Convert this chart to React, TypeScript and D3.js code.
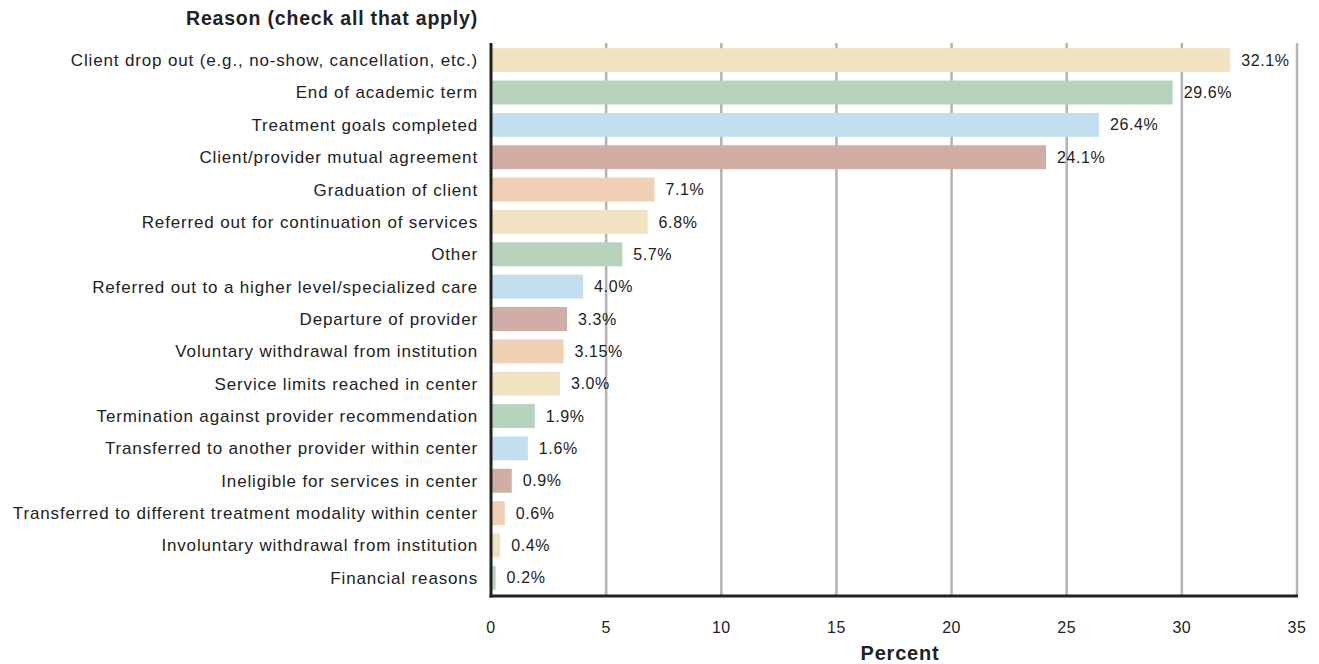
import React from "react";
import * as d3 from "d3";

const categories = [
  "Client drop out (e.g., no-show, cancellation, etc.)",
  "End of academic term",
  "Treatment goals completed",
  "Client/provider mutual agreement",
  "Graduation of client",
  "Referred out for continuation of services",
  "Other",
  "Referred out to a higher level/specialized care",
  "Departure of provider",
  "Voluntary withdrawal from institution",
  "Service limits reached in center",
  "Termination against provider recommendation",
  "Transferred to another provider within center",
  "Ineligible for services in center",
  "Transferred to different treatment modality within center",
  "Involuntary withdrawal from institution",
  "Financial reasons",
];
const values = [32.1, 29.6, 26.4, 24.1, 7.1, 6.8, 5.7, 4.0, 3.3, 3.15, 3.0, 1.9, 1.6, 0.9, 0.6, 0.4, 0.2];
const valueLabels = ["32.1%", "29.6%", "26.4%", "24.1%", "7.1%", "6.8%", "5.7%", "4.0%", "3.3%", "3.15%", "3.0%", "1.9%", "1.6%", "0.9%", "0.6%", "0.4%", "0.2%"];
const xTicks = [0, 5, 10, 15, 20, 25, 30, 35];
const palette = ["#f2e3c0", "#b7d3bc", "#c2dff0", "#d0aea5", "#f0d0b3"];

export default function App() {
  const W = 1319, H = 664;
  const left = 491, right = 1297, top = 43, bottom = 596;
  const x = d3.scaleLinear().domain([0, 35]).range([left, right]);
  const y = d3.scaleBand<string>().domain(categories).range([top + 1, bottom - 2]).paddingInner(0.26).paddingOuter(0.13);
  const font = "'Liberation Sans', Arial, Helvetica, sans-serif";
  return (
    <svg width={W} height={H} style={{ position: "absolute", left: 0, top: 0 }} fontFamily={font}>
      <rect width={W} height={H} fill="#fff" />
      <text x={478} y={25} textAnchor="end" fontWeight="bold" fontSize={19.5} letterSpacing={0.8} fill="#222">Reason (check all that apply)</text>
      {xTicks.slice(1).map((t) => (
        <line key={t} x1={x(t)} x2={x(t)} y1={top} y2={bottom} stroke="#b3b3b8" strokeWidth={2.5} />
      ))}
      {categories.map((c, i) => (
        <g key={c}>
          <rect x={x(0)} y={y(c)!} width={x(values[i]) - x(0)} height={y.bandwidth()} fill={palette[i % palette.length]} />
          <text x={x(values[i]) + 11} y={y(c)! + y.bandwidth() / 2} dy="0.35em" fontSize={16} letterSpacing={0.6} fill="#222">{valueLabels[i]}</text>
          <text x={478} y={y(c)! + y.bandwidth() / 2} dy="0.35em" textAnchor="end" fontSize={17} letterSpacing={0.85} fill="#222">{c}</text>
        </g>
      ))}
      <line x1={left} x2={left} y1={top} y2={bottom + 1.5} stroke="#222" strokeWidth={3} />
      <line x1={left - 1.5} x2={right + 1} y1={bottom} y2={bottom} stroke="#222" strokeWidth={3} />
      {xTicks.map((t) => (
        <text key={t} x={x(t)} y={633} textAnchor="middle" fontSize={16} letterSpacing={0.5} fill="#222">{t}</text>
      ))}
      <text x={(left + right) / 2 + 6} y={660} textAnchor="middle" fontWeight="bold" fontSize={20} letterSpacing={0.8} fill="#222">Percent</text>
    </svg>
  );
}
